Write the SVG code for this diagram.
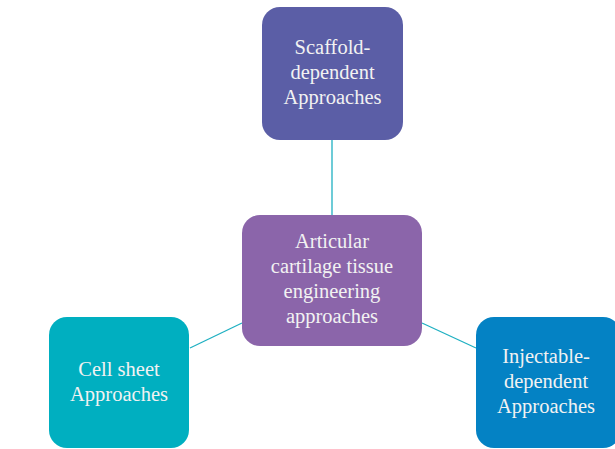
<svg xmlns="http://www.w3.org/2000/svg" width="615" height="449" viewBox="0 0 615 449">
<style>
.lbl{font-family:"Liberation Serif","DejaVu Serif",serif;font-size:20.5px;fill:#f2f2f2;text-anchor:middle}
.conn{stroke:#1FB0C2;stroke-width:1.3;fill:none}
</style>
<rect width="615" height="449" fill="#ffffff"/>
<g id="connectors">
<line class="conn" x1="332" y1="140" x2="332" y2="215"/>
<line class="conn" x1="190" y1="348" x2="242" y2="323"/>
<line class="conn" x1="422" y1="323" x2="476" y2="348"/>
</g>
<g id="scaffold">
<rect x="262" y="7" width="141" height="133" rx="18" fill="#5B5EA6"/>
<text class="lbl" x="332.5" y="54">Scaffold-</text>
<text class="lbl" x="332.5" y="79">dependent</text>
<text class="lbl" x="332.5" y="104">Approaches</text>
</g>
<g id="center">
<rect x="242" y="215" width="180" height="131" rx="18" fill="#8B65AA"/>
<text class="lbl" x="332" y="248">Articular</text>
<text class="lbl" x="332" y="273">cartilage tissue</text>
<text class="lbl" x="332" y="298">engineering</text>
<text class="lbl" x="332" y="323">approaches</text>
</g>
<g id="cellsheet">
<rect x="49" y="317" width="140" height="131" rx="18" fill="#00AFC0"/>
<text class="lbl" x="119" y="376">Cell sheet</text>
<text class="lbl" x="119" y="401">Approaches</text>
</g>
<g id="injectable">
<rect x="476" y="317" width="145" height="131" rx="18" fill="#0482C4"/>
<text class="lbl" x="546" y="363">Injectable-</text>
<text class="lbl" x="546" y="388">dependent</text>
<text class="lbl" x="546" y="413">Approaches</text>
</g>
</svg>
